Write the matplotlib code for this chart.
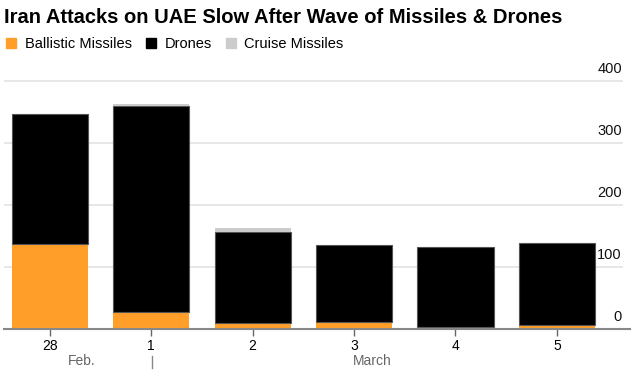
import matplotlib.pyplot as plt
from matplotlib.patches import Patch
import numpy as np

days = ["28", "1", "2", "3", "4", "5"]
ballistic = [137, 28, 9, 12, 3, 6]
drones = [209, 332, 148, 123, 129, 132]
cruise = [0, 2, 6, 0, 0, 0]
yticks = [0, 100, 200, 300, 400]

orange = "#ff9f29"
black = "#000000"
grey = "#cccccc"

plt.rcParams["font.family"] = ["Liberation Sans", "DejaVu Sans"]

fig = plt.figure(figsize=(6.36, 3.78), dpi=100)
ax = fig.add_axes([4 / 636, 49 / 378, 626 / 636, 254.5 / 378])

x = np.arange(len(days))
b1 = np.array(ballistic)
b2 = b1 + np.array(drones)
ax.bar(x, ballistic, width=0.75, color=orange, zorder=3)
ax.bar(x, drones, bottom=b1, width=0.75, color=black, edgecolor="#555555", linewidth=0.8, zorder=3)
ax.bar(x, cruise, bottom=b2, width=0.75, color=grey, linewidth=0, zorder=3)

ax.set_xlim(-0.45, 5.72)
ax.set_ylim(0, 410)

# gridlines with labels sitting above them on the right
for t in yticks:
    if t > 0:
        ax.axhline(t, xmax=0.987, color="#e3e3e3", linewidth=1.2, zorder=1)
    ax.text(0.987, t + 8, str(t), transform=ax.get_yaxis_transform(),
            ha="right", va="bottom", fontsize=10.5, color="#111111")

for s in ["top", "right", "left"]:
    ax.spines[s].set_visible(False)
ax.spines["bottom"].set_color("#888888")
ax.spines["bottom"].set_linewidth(1.5)
ax.spines["bottom"].set_zorder(4)
ax.set_yticks([])
ax.set_xticks(x)
ax.set_xticklabels(days, fontsize=10)
ax.tick_params(axis="x", length=5, width=1, color="#666666", pad=2)

# month labels
fig.text(82 / 636, 1 - 361 / 378, "Feb.", ha="center", va="center", fontsize=10, color="#666666")
fig.text(372 / 636, 1 - 361 / 378, "March", ha="center", va="center", fontsize=10, color="#666666")
fig.add_artist(plt.Line2D([152 / 636, 152 / 636], [1 - 356 / 378, 1 - 368 / 378],
                          transform=fig.transFigure, color="#888888", linewidth=1))

fig.text(4 / 636, 1 - 17.5 / 378, "Iran Attacks on UAE Slow After Wave of Missiles & Drones",
         ha="left", va="center", fontsize=14.5, fontweight="bold")

handles = [Patch(color=orange, label="Ballistic Missiles"),
           Patch(color=black, label="Drones"),
           Patch(color=grey, label="Cruise Missiles")]
fig.legend(handles=handles, loc="center left", bbox_to_anchor=(2 / 636, 1 - 44 / 378), ncol=3,
           frameon=False, fontsize=10.5, handlelength=0.65, handleheight=0.65,
           handletextpad=0.6, columnspacing=1.0, borderaxespad=0, borderpad=0.3)

fig.savefig("out.png", dpi=100)
